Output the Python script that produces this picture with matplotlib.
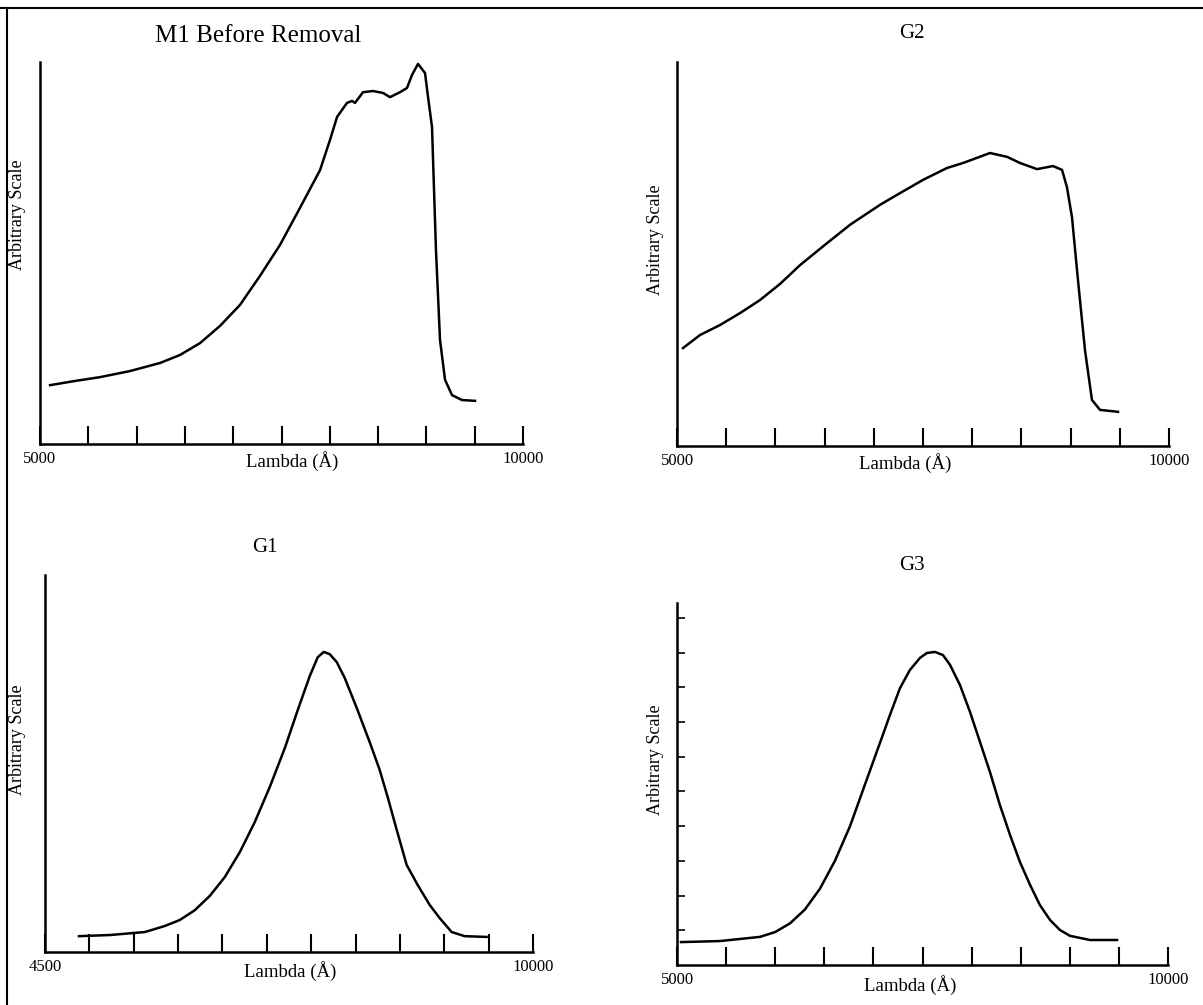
import matplotlib
matplotlib.use("Agg")
import matplotlib.pyplot as plt
from matplotlib.lines import Line2D

plt.rcParams['font.family'] = ['Liberation Serif', 'DejaVu Serif']

W, H = 1203, 1005

# M1 Before Removal (wavelength in Angstrom, arbitrary scale 0-100)
m1_wl = [5104, 5362, 5621, 5932, 6242, 6449, 6656, 6863, 7070, 7277, 7484, 7691,
         7899, 8002, 8075, 8178, 8230, 8261, 8344, 8447, 8551, 8623, 8727, 8799,
         8851, 8913, 8986, 9017, 9058, 9099, 9141, 9193, 9265, 9369, 9503]
m1_val = [15.4, 16.5, 17.5, 19.1, 21.2, 23.3, 26.4, 30.9, 36.4, 44.0, 52.1, 61.8,
          71.7, 79.6, 85.6, 89.3, 89.8, 89.3, 92.1, 92.4, 91.9, 90.8, 92.1, 93.2,
          96.6, 99.5, 97.1, 90.8, 83.0, 50.8, 27.2, 16.8, 12.8, 11.5, 11.3]

# G2
g2_wl = [5061, 5234, 5437, 5640, 5843, 6047, 6250, 6504, 6758, 7063, 7236, 7500,
         7744, 7907, 8181, 8354, 8486, 8659, 8821, 8913, 8963, 9014, 9075, 9146,
         9217, 9299, 9482]
g2_val = [25.5, 28.9, 31.5, 34.6, 38.0, 42.2, 47.1, 52.4, 57.6, 62.8, 65.4, 69.3,
          72.4, 73.7, 76.3, 75.3, 73.7, 72.1, 72.9, 71.9, 67.4, 59.6, 43.2, 25.0,
          12.0, 9.4, 8.9]

# G1
g1_wl = [4883, 5232, 5626, 5851, 6020, 6189, 6358, 6527, 6696, 6865, 7034, 7203,
         7349, 7484, 7574, 7642, 7709, 7788, 7878, 8014, 8159, 8272, 8362, 8464,
         8576, 8700, 8835, 8948, 9083, 9229, 9477]
g1_val = [4.2, 4.5, 5.3, 6.9, 8.5, 11.1, 14.9, 19.9, 26.5, 34.5, 43.8, 54.1,
          64.2, 73.2, 78.2, 79.6, 79.0, 76.9, 72.7, 64.7, 55.7, 48.3, 41.1, 32.4,
          23.1, 17.8, 12.5, 9.0, 5.3, 4.2, 4.0]

# G3 (scale 0-10)
g3_wl = [5041, 5438, 5845, 6000, 6151, 6303, 6456, 6608, 6762, 6914, 7067, 7168,
         7271, 7372, 7475, 7545, 7627, 7708, 7780, 7881, 7984, 8085, 8187, 8288,
         8391, 8492, 8595, 8695, 8798, 8899, 9002, 9206, 9481]
g3_val = [0.66, 0.69, 0.81, 0.95, 1.2, 1.6, 2.2, 3.0, 4.0, 5.2, 6.4, 7.2,
          7.98, 8.5, 8.85, 8.99, 9.02, 8.93, 8.65, 8.07, 7.29, 6.43, 5.56, 4.61,
          3.75, 2.97, 2.31, 1.73, 1.30, 1.01, 0.84, 0.72, 0.72]
g3_yticks = [1, 2, 3, 4, 5, 6, 7, 8, 9, 10]

x_ticks_a = list(range(5000, 10001, 500))
x_ticks_b = list(range(4500, 10001, 500))


def px_axes(fig, left, right, bottom, top):
    """axes from pixel box"""
    return fig.add_axes([left / W, 1 - bottom / H, (right - left) / W, (bottom - top) / H])


def px_text(fig, x, y, s, size, rot=0):
    fig.text(x / W, 1 - y / H, s, fontsize=size, rotation=rot, ha='center', va='center')


def style(ax, ticks, xmin, ymax):
    ax.set_xlim(xmin, 10000)
    ax.set_ylim(0, ymax)
    for side in ['top', 'right']:
        ax.spines[side].set_visible(False)
    for side in ['left', 'bottom']:
        ax.spines[side].set_linewidth(1.8)
    ax.set_xticks(ticks)
    labels = [''] * len(ticks)
    labels[0] = str(ticks[0])
    labels[-1] = str(ticks[-1])
    ax.set_xticklabels(labels, fontsize=12)
    ax.tick_params(axis='x', direction='in', length=13, width=1.5, pad=5)
    ax.set_yticks([])


fig = plt.figure(figsize=(W / 100, H / 100), dpi=100)

ax1 = px_axes(fig, 40, 523, 444, 62)
ax1.plot(m1_wl, m1_val, color='black', lw=1.8)
style(ax1, x_ticks_a, 5000, 100)

ax2 = px_axes(fig, 677, 1169, 446, 62)
ax2.plot(g2_wl, g2_val, color='black', lw=1.8)
style(ax2, x_ticks_a, 5000, 100)

ax3 = px_axes(fig, 45, 533, 952, 575)
ax3.plot(g1_wl, g1_val, color='black', lw=1.8)
style(ax3, x_ticks_b, 4500, 100)

ax4 = px_axes(fig, 677, 1168, 965, 603)
ax4.plot(g3_wl, g3_val, color='black', lw=1.8)
style(ax4, x_ticks_a, 5000, 10.43)
ax4.set_yticks(g3_yticks)
ax4.set_yticklabels([])
ax4.tick_params(axis='y', direction='in', length=6, width=1.2)

# titles and labels
px_text(fig, 258, 36, 'M1 Before Removal', 18)
px_text(fig, 912, 34, 'G2', 15)
px_text(fig, 265, 547, 'G1', 15)
px_text(fig, 912, 565, 'G3', 15)

px_text(fig, 18, 215, 'Arbitrary Scale', 13, 90)
px_text(fig, 655, 240, 'Arbitrary Scale', 13, 90)
px_text(fig, 18, 740, 'Arbitrary Scale', 13, 90)
px_text(fig, 655, 760, 'Arbitrary Scale', 13, 90)

px_text(fig, 292, 461, 'Lambda (Å)', 13.5)
px_text(fig, 905, 463, 'Lambda (Å)', 13.5)
px_text(fig, 290, 971, 'Lambda (Å)', 13.5)
px_text(fig, 910, 985, 'Lambda (Å)', 13.5)

# outer frame (top and left edges only)
fig.add_artist(Line2D([0, 1], [1 - 8 / H, 1 - 8 / H], transform=fig.transFigure, color='black', lw=1.5))
fig.add_artist(Line2D([7 / W, 7 / W], [0, 1 - 8 / H], transform=fig.transFigure, color='black', lw=1.5))

fig.savefig('out.png', dpi=100)
